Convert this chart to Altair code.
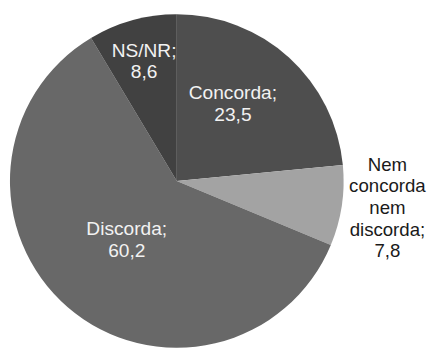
import altair as alt
import pandas as pd

categories = ["Concorda", "Nem concorda nem discorda", "Discorda", "NS/NR"]
values = [23.5, 7.8, 60.2, 8.6]
labels = ["Concorda;\n23,5", "Nem\nconcorda\nnem\ndiscorda;\n7,8", "Discorda;\n60,2", "NS/NR;\n8,6"]
colors = ["#4e4e4e", "#a3a3a3", "#686868", "#414141"]

df = pd.DataFrame({
    "cat": categories,
    "value": values,
    "label": labels,
    "ord": list(range(len(categories))),
})

base = alt.Chart(df)

pie = base.mark_arc(outerRadius=170, stroke=None).encode(
    theta=alt.Theta("value:Q", stack=True),
    color=alt.Color("cat:N", scale=alt.Scale(domain=categories, range=colors), legend=None),
    order=alt.Order("ord:Q"),
)

# per-label styling: (radius, dx, dy, color, size)
styles = {
    "Concorda": (91, -4, -22, "#f2f2f2", 19.5),
    "Nem concorda nem discorda": (213, 4, -48, "#1a1a1a", 19),
    "Discorda": (78, 0, -10, "#f2f2f2", 19.5),
    "NS/NR": (125, 0, -12, "#f2f2f2", 19.5),
}

layers = [pie]
for c in categories:
    r, dx, dy, col, fs = styles[c]
    layers.append(
        base.mark_text(
            radius=r, dx=dx, dy=dy, color=col, font="Liberation Sans",
            fontSize=fs, lineHeight=22, lineBreak="\n", align="center", baseline="middle",
        ).encode(
            theta=alt.Theta("value:Q", stack=True),
            order=alt.Order("ord:Q"),
            detail="cat:N",
            text=alt.condition(f"datum.cat == '{c}'", "label:N", alt.value("")),
        )
    )

chart = alt.layer(*layers).properties(
    width=344, height=346,
    padding={"left": 0, "top": 0, "right": 84, "bottom": 0},
    autosize=alt.AutoSizeParams(type="none"),
).configure_view(stroke=None).configure(background="white")

chart.save("out.html", embed_options={"renderer": "svg", "actions": False})
